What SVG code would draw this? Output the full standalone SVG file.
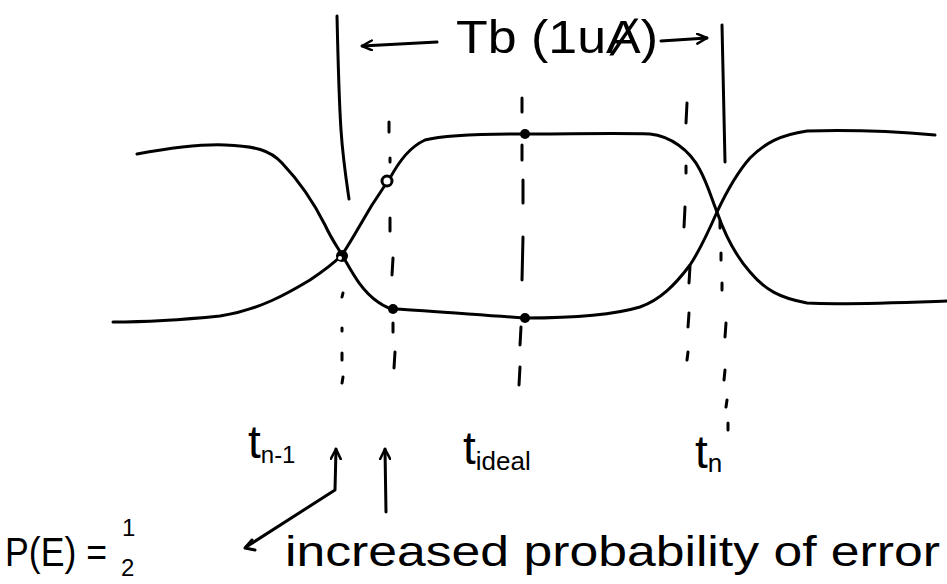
<svg xmlns="http://www.w3.org/2000/svg" width="947" height="584" viewBox="0 0 947 584">
<defs>
<style>
.ln{fill:none;stroke:#000;stroke-width:3;stroke-linecap:round;stroke-linejoin:round}
.ds{fill:none;stroke:#000;stroke-width:3;stroke-linecap:round}
.tx{font-family:"Liberation Sans","DejaVu Sans",sans-serif;fill:#000}
</style>
<marker id="ah" viewBox="0 0 12 12" refX="11" refY="6" markerWidth="12" markerHeight="12" markerUnits="userSpaceOnUse" orient="auto">
<path d="M1,1 L11,6 L1,11" fill="none" stroke="#000" stroke-width="2.5" stroke-linecap="round" stroke-linejoin="round"/>
</marker>
</defs>
<rect width="947" height="584" fill="#fff"/>

<g id="waveforms">
<path class="ln" d="M137,154 C170,148 200,144 225,145 C255,146 270,150 282,163 C300,182 315,205 325,225 C332,240 338,248 342,255 C350,268 360,290 378,302 C385,307 390,309 395,309 C430,311 480,315 525,318 C570,318 610,316 640,307 C660,300 675,285 690,265 C700,250 710,228 717,212 C725,195 735,175 750,158 C765,143 780,135 807,131 C840,130 890,131 935,135"/>
<path class="ln" d="M113,322 C150,322 180,320 220,316 C260,310 290,292 310,280 C325,270 335,262 342,255 C352,240 360,225 372,205 C380,193 385,185 390,178 C400,160 410,147 425,140 C445,135 480,134 525,134 C570,134 620,133 650,134 C670,136 690,150 700,170 C708,185 712,200 717,212 C725,235 735,255 750,272 C765,290 780,298 807,303 C840,305 890,303 947,301"/>
</g>

<g id="sample-points">
<circle cx="342" cy="256" r="6" fill="#000"/>
<circle cx="340" cy="258" r="2" fill="#fff"/>
<circle cx="387" cy="181" r="5" fill="#fff" stroke="#000" stroke-width="3"/>
<circle cx="393" cy="309" r="5" fill="#000"/>
<circle cx="525" cy="134" r="5" fill="#000"/>
<circle cx="525" cy="318" r="5" fill="#000"/>
</g>

<g id="bit-period">
<path class="ln" d="M337,16 C338,60 339,100 341,130 C343,160 347,185 349,199"/>
<path class="ln" d="M722,25 L725,162"/>
<path class="ln" d="M437,42 L362,46" marker-end="url(#ah)"/>
<path class="ln" d="M661,41 L707,38" marker-end="url(#ah)"/>
<text class="tx" x="456" y="53" font-size="46" textLength="202" lengthAdjust="spacingAndGlyphs">Tb (1uȺ)</text>
</g>

<g id="connectors">
<g id="line-tn1">
<path class="ds" d="M343,293 L342,297 M342,328 L342,331 M342,353 L342,360 M343,377 L342,383"/>
</g>
<g id="line-early">
<path class="ds" d="M389,122 L389,132 M390,158 L390,162 M390,218 L390,231 M393,258 L392,275 M393,323 L393,332 M395,352 L394,368"/>
</g>
<g id="line-ideal">
<path class="ds" d="M522,98 L522,112 M522,145 L522,160 M523,180 L523,203 M523,237 L522,280 M521,327 L520,345 M520,367 L519,385"/>
</g>
<g id="line-late">
<path class="ds" d="M687,103 L686,123 M686,166 L686,173 M685,207 L684,227 M690,266 L689,283 M689,313 L688,327 M688,352 L687,360"/>
</g>
<g id="line-tn">
<path class="ds" d="M720,221 L720,228 M721,253 L721,260 M722,283 L722,290 M726,323 L725,337 M725,370 L724,380 M727,400 L726,407 M728,423 L728,430"/>
</g>
<path class="ln" d="M246,547 L335,490 L336,449" marker-end="url(#ah)"/>
<path class="ln" d="M252,540 L245,548 L255,550"/>
<path class="ln" d="M386,512 L385,449" marker-end="url(#ah)"/>
</g>

<g id="labels">
<text class="tx" x="248" y="458" font-size="46">t<tspan font-size="24" dy="5">n-1</tspan></text>
<text class="tx" x="463" y="464" font-size="46">t<tspan font-size="26" dy="6">ideal</tspan></text>
<text class="tx" x="695" y="468" font-size="46">t<tspan font-size="26" dy="4">n</tspan></text>
<text class="tx" x="5" y="566" font-size="40" textLength="102" lengthAdjust="spacingAndGlyphs">P(E) =</text>
<text class="tx" x="122" y="536" font-size="24">1</text>
<text class="tx" x="121" y="576" font-size="24">2</text>
<text class="tx" x="285" y="566" font-size="42" textLength="655" lengthAdjust="spacingAndGlyphs">increased probability of error</text>
</g>
</svg>
